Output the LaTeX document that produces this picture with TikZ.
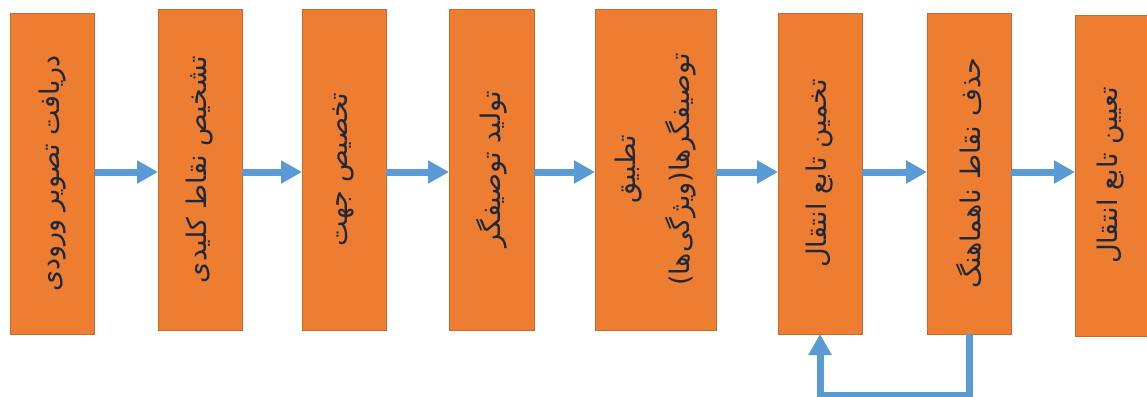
\documentclass[tikz,border=0pt]{standalone}
\usepackage{fontspec}
\usetikzlibrary{arrows.meta}
\TeXXeTstate=1
\newfontfamily\fafont[Script=Arabic]{DejaVu Sans}
\definecolor{boxorange}{HTML}{ED7D31}
\definecolor{boxedge}{HTML}{C46A2E}
\definecolor{arrblue}{HTML}{5B9BD5}
\definecolor{txtcol}{HTML}{1E2838}
\tikzset{
  stepbox/.style={rectangle, fill=boxorange, draw=boxedge, line width=0.8pt, inner sep=0pt, outer sep=0pt},
  lbl/.style={rotate=90, text=txtcol, font=\fafont\fontsize{27}{54}\selectfont, align=center, inner sep=0pt},
  arr/.style={draw=arrblue, line width=7pt, -{Triangle[length=21pt,width=22pt]}},
}
\begin{document}
\begin{tikzpicture}[x=1pt,y=-1pt]
\useasboundingbox (0,0) rectangle (1147,396);
\clip (0,0) rectangle (1147,396);
% boxes
\node[stepbox, minimum width=84pt, minimum height=321pt] (b1) at (52.5,173.5) {};
\node[stepbox, minimum width=84pt, minimum height=321pt] (b2) at (200,169.5) {};
\node[stepbox, minimum width=84pt, minimum height=321pt] (b3) at (344,169.5) {};
\node[stepbox, minimum width=85pt, minimum height=321pt] (b4) at (491.5,169.5) {};
\node[stepbox, minimum width=121pt, minimum height=321pt] (b5) at (655.5,169.5) {};
\node[stepbox, minimum width=84pt, minimum height=321pt] (b6) at (820,173.5) {};
\node[stepbox, minimum width=84pt, minimum height=321pt] (b7) at (969,173.5) {};
\node[stepbox, minimum width=84pt, minimum height=321pt] (b8) at (1117,175.5) {};
% labels
\node[lbl] (t1) at (b1) {\beginR دریافت تصویر ورودی\endR};
\node[lbl] (t2) at (b2) {\beginR تشخیص نقاط کلیدی\endR};
\node[lbl] (t3) at (b3) {\beginR تخصیص جهت\endR};
\node[lbl] (t4) at (b4) {\beginR تولید توصیفگر\endR};
\node[lbl] (t5) at (b5) {\beginR تطبیق\endR\\\beginR توصیفگرها(ویژگی‌ها)\endR};
\node[lbl] (t6) at (b6) {\beginR تخمین تابع انتقال\endR};
\node[lbl] (t7) at (b7) {\beginR حذف نقاط ناهماهنگ\endR};
\node[lbl] (t8) at (1111,175.5) {\beginR تعیین تابع انتقال\endR};
% arrows
\coordinate (ay) at (0,172);
\coordinate (fb) at (0,395);
\draw[arr] (b1.east |- ay) -- (b2.west |- ay);
\draw[arr] (b2.east |- ay) -- (b3.west |- ay);
\draw[arr] (b3.east |- ay) -- (b4.west |- ay);
\draw[arr] (b4.east |- ay) -- (b5.west |- ay);
\draw[arr] (b5.east |- ay) -- (b6.west |- ay);
\draw[arr] (b6.east |- ay) -- (b7.west |- ay);
\draw[arr] (b7.east |- ay) -- (b8.west |- ay);
% feedback
\draw[arr] (b7.south) -- (b7.south |- fb) -| (b6.south);
\end{tikzpicture}
\end{document}
